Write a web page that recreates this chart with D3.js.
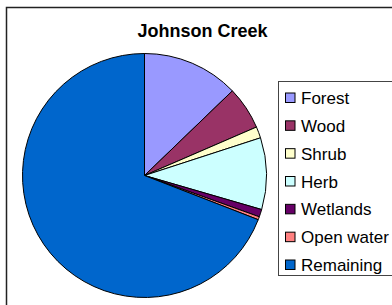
<!DOCTYPE html>
<html>
<head>
<meta charset="utf-8">
<script src="https://cdn.jsdelivr.net/npm/d3@7"></script>
<style>
  body { margin: 0; background: #fff; }
  text { font-family: "Liberation Sans", Arial, sans-serif; }
</style>
</head>
<body>
<div id="chart"></div>
<script>
// Johnson Creek land cover
var categories = ["Forest", "Wood", "Shrub", "Herb", "Wetlands", "Open water", "Remaining"];
var values = [12.8, 5.7, 1.5, 9.5, 1.0, 0.4, 69.1];
var colors = ["#9999ff", "#993366", "#ffffcc", "#ccffff", "#660066", "#ff8080", "#0066cc"];

var width = 392,
    height = 305,
    radius = 122;

var data = categories.map(function(c, i) { return {name: c, value: values[i]}; });

var color = d3.scaleOrdinal()
    .domain(categories)
    .range(colors);

var svg = d3.select("#chart").append("svg")
    .attr("width", width)
    .attr("height", height);

// outer chart frame (runs off the right and bottom)
svg.append("rect")
    .attr("x", 6.5)
    .attr("y", 7.5)
    .attr("width", 420)
    .attr("height", 320)
    .style("fill", "none")
    .style("stroke", "#222")
    .style("stroke-width", 1.5);

svg.append("text")
    .attr("x", 202.5)
    .attr("y", 37)
    .attr("text-anchor", "middle")
    .style("font-size", "18px")
    .style("font-weight", "bold")
    .text("Johnson Creek");

var pie = d3.pie()
    .sort(null)
    .value(function(d) { return d.value; });

var arc = d3.arc()
    .outerRadius(radius)
    .innerRadius(0);

var g = svg.append("g")
    .attr("transform", "translate(144.5,175.5)");

g.selectAll(".arc")
    .data(pie(data))
  .enter().append("path")
    .attr("class", "arc")
    .attr("d", arc)
    .style("fill", function(d) { return color(d.data.name); })
    .style("stroke", "#000")
    .style("stroke-width", 1)
    .style("stroke-linejoin", "round");

// legend
var legend = svg.append("g")
    .attr("transform", "translate(278.5,81.5)");

legend.append("rect")
    .attr("width", 130)
    .attr("height", 194)
    .style("fill", "#fff")
    .style("stroke", "#444")
    .style("stroke-width", 1);

var y = d3.scalePoint()
    .domain(categories)
    .range([16.5, 183.5]);

var item = legend.selectAll(".item")
    .data(categories)
  .enter().append("g")
    .attr("class", "item")
    .attr("transform", function(d) { return "translate(0," + y(d) + ")"; });

item.append("rect")
    .attr("x", 7)
    .attr("y", -5)
    .attr("width", 9.5)
    .attr("height", 9.5)
    .style("fill", function(d) { return color(d); })
    .style("stroke", "#000")
    .style("stroke-width", 1);

item.append("text")
    .attr("x", 22.5)
    .attr("y", 6)
    .style("font-size", "17px")
    .text(function(d) { return d; });
</script>
</body>
</html>
